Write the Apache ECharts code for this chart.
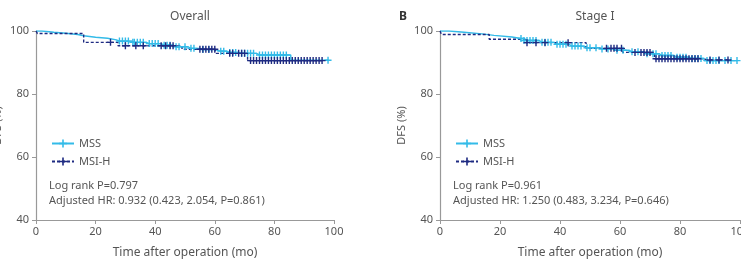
<!DOCTYPE html>
<html>
<head>
<meta charset="utf-8">
<script src="https://cdn.jsdelivr.net/npm/echarts@6/dist/echarts.min.js"></script>
<style>
  html, body { margin: 0; padding: 0; background: #fff; }
  #chart { width: 741px; height: 265px; }
</style>
</head>
<body>
<div id="chart"></div>
<script>
// --- data: Kaplan-Meier events [time, DFS %] and censored times ---
var xTicks = [0, 20, 40, 60, 80, 100];
var yTicks = [40, 60, 80, 100];

var overallMssEvents = [[2, 99.6], [6, 99.3], [10, 98.9], [14, 98.5], [16, 98.0], [20, 97.7], [24, 97.2], [27, 96.8],
  [32, 96.4], [37, 96.0], [42, 95.5], [46, 95.0], [51, 94.5], [55, 94.1], [60, 93.6], [64, 93.2], [68, 92.9],
  [74, 92.4], [85.5, 90.7]];
var overallMssCensor = [28, 29, 30, 31, 32.5, 33, 34, 35, 36, 38, 39, 40, 41, 43, 44, 45, 47, 48, 50, 52, 53, 56, 58,
  62, 63, 65, 66, 67, 69, 70, 71, 72, 73, 75, 76, 77, 78, 79, 80, 81, 82, 83, 84, 98];
var overallMsiEvents = [[0.5, 99.2], [16, 96.4], [27.5, 95.3], [49, 94.2], [60.5, 92.9], [71, 90.6]];
var overallMsiCensor = [25, 30, 33.5, 36, 42, 43.5, 45, 46, 55, 56, 57, 58, 59, 60, 65, 66, 68, 69, 70,
  72, 73, 74, 75, 76, 77, 78, 79, 80, 81, 82, 83, 84, 85, 86, 87, 88, 89, 90, 91, 92, 93, 94, 95, 96];

var stageMssEvents = [[3, 99.6], [8, 99.1], [14, 98.6], [18, 98.1], [24, 97.6], [28, 97.0], [33, 96.4], [38, 95.8],
  [43, 95.2], [48, 94.7], [53, 94.3], [58, 93.9], [63, 93.4], [68, 92.8], [73, 92.2], [78, 91.7], [83, 91.3], [88, 90.6]];
var stageMssCensor = [27, 28, 29, 30, 31, 32, 34, 35, 36, 37, 39, 40, 41, 42, 44, 45, 46, 47, 49, 50, 52, 54, 56, 59,
  61, 64, 66, 69, 71, 72, 74, 75, 76, 77, 79, 80, 81, 82, 84, 85, 86, 87, 89, 90, 91, 92, 93, 95, 97, 99];
var stageMsiEvents = [[0.5, 98.9], [16.4, 97.4], [28.3, 96.3], [48.7, 94.5], [61, 93.2], [71.5, 91.2], [87, 90.8]];
var stageMsiCensor = [29, 32, 35, 42.7, 55.5, 57, 58, 59, 60.5, 65, 67, 68, 69, 70, 72, 73, 74, 75, 76, 77, 78, 79,
  80, 81, 82, 83, 84, 85, 86, 90, 93, 96];

var mssColor = '#33bbe8';
var msiColor = '#1e2b82';
var plus = 'path://M4,0H6V4H10V6H6V10H4V6H0V4H4Z';

// merge events and censored marks into one step series
function kmData(events, censor) {
  var pts = [{ value: [0, 100], symbol: 'none' }];
  events.forEach(function(e) { pts.push({ value: [e[0], e[1]], symbol: 'none' }); });
  censor.forEach(function(t) {
    var s = 100;
    events.forEach(function(e) { if (e[0] <= t) s = e[1]; });
    pts.push({ value: [t, s] });
  });
  pts.sort(function(a, b) { return a.value[0] - b.value[0]; });
  return pts;
}

var font = 'Noto Sans';
var ink = '#555';
var axisGray = '#999';

function xAxis(idx) {
  return {
    gridIndex: idx, type: 'value', min: 0, max: 100, interval: 20,
    name: 'Time after operation (mo)', nameLocation: 'middle', nameGap: 27,
    nameTextStyle: { color: ink, fontSize: 12, fontFamily: font },
    axisLine: { lineStyle: { color: axisGray, width: 1.2 } },
    axisTick: { length: 4, lineStyle: { color: axisGray } },
    axisLabel: { color: ink, fontSize: 11, fontFamily: font, margin: 6 },
    splitLine: { show: false }
  };
}
function yAxis(idx) {
  return {
    gridIndex: idx, type: 'value', min: 40, max: 100, interval: 20,
    name: 'DFS (%)', nameLocation: 'middle', nameGap: 33,
    nameTextStyle: { color: ink, fontSize: 11, fontFamily: font },
    axisLine: { show: true, lineStyle: { color: axisGray, width: 1.2 } },
    axisTick: { show: true, length: 4, lineStyle: { color: axisGray } },
    axisLabel: { color: ink, fontSize: 11, fontFamily: font, margin: 7 },
    splitLine: { show: false }
  };
}
function km(name, idx, events, censor, color, dashed) {
  return {
    name: name, type: 'line', xAxisIndex: idx, yAxisIndex: idx, step: 'end',
    data: kmData(events, censor), symbol: plus, symbolSize: 7, showSymbol: true, showAllSymbol: true,
    itemStyle: { color: color },
    lineStyle: { color: color, width: 1.4, type: dashed ? [3, 2] : 'solid' },
    animation: false
  };
}
function legend(left) {
  return {
    left: left, top: 133, orient: 'vertical', itemWidth: 22, itemHeight: 10, itemGap: 7,
    data: ['MSS', 'MSI-H'],
    textStyle: { color: ink, fontSize: 11, fontFamily: font }
  };
}
function note(left, lines) {
  return lines.map(function(t, i) {
    return { type: 'text', left: left, top: 180 + i * 15, style: { text: t, fill: ink, fontSize: 11, fontFamily: font } };
  });
}

var chart = echarts.init(document.getElementById('chart'));
chart.setOption({
  animation: false,
  title: [
    { text: 'Overall', left: 185, top: 6, textAlign: 'center', textStyle: { color: ink, fontSize: 12, fontWeight: 'normal', fontFamily: font } },
    { text: 'Stage I', left: 590, top: 6, textAlign: 'center', textStyle: { color: ink, fontSize: 12, fontWeight: 'normal', fontFamily: font } },
    { text: 'B', left: 394, top: 6, textStyle: { color: '#333', fontSize: 12, fontWeight: 'bold', fontFamily: font } }
  ],
  grid: [
    { left: 36, top: 31, width: 298, height: 189, containLabel: false, outerBoundsMode: 'none' },
    { left: 440, top: 31, width: 300, height: 189, containLabel: false, outerBoundsMode: 'none' }
  ],
  xAxis: [xAxis(0), xAxis(1)],
  yAxis: [yAxis(0), yAxis(1)],
  legend: [legend(46), legend(450)],
  graphic: note(49, ['Log rank P=0.797', 'Adjusted HR: 0.932 (0.423, 2.054, P=0.861)'])
    .concat(note(453, ['Log rank P=0.961', 'Adjusted HR: 1.250 (0.483, 3.234, P=0.646)'])),
  series: [
    km('MSS', 0, overallMssEvents, overallMssCensor, mssColor, false),
    km('MSI-H', 0, overallMsiEvents, overallMsiCensor, msiColor, true),
    km('MSS', 1, stageMssEvents, stageMssCensor, mssColor, false),
    km('MSI-H', 1, stageMsiEvents, stageMsiCensor, msiColor, true)
  ]
});
window.addEventListener('resize', function() { chart.resize(); });
</script>
</body>
</html>
